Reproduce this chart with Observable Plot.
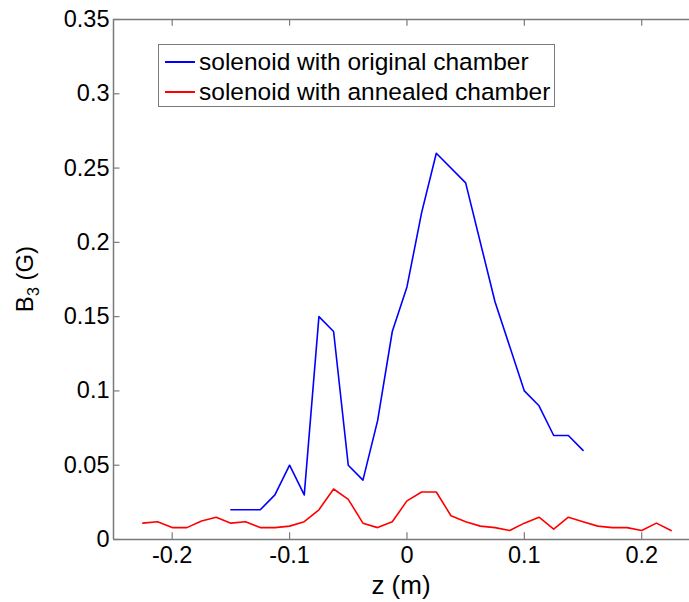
<!DOCTYPE html>
<html>
<head>
<meta charset="utf-8">
<script src="https://cdn.jsdelivr.net/npm/d3@7"></script>
<script src="https://cdn.jsdelivr.net/npm/@observablehq/plot@0.6"></script>
<style>
  html, body { margin: 0; padding: 0; background: #fff; overflow: hidden; }
  #wrap { position: relative; width: 689px; height: 602px; font-family: "Liberation Sans", Arial, sans-serif; }
  #legend { position: absolute; left: 158px; top: 44px; width: 397px; height: 63px; border: 1px solid #7a7a7a; background: #fff; box-sizing: border-box; }
  .row { position: absolute; left: 0; height: 30px; display: flex; align-items: center; font-size: 24.5px; color: #000; white-space: nowrap; }
  .sw { display: inline-block; width: 30px; height: 0; border-top: 2px solid; margin-left: 6px; margin-right: 4px; }
</style>
</head>
<body>
<div id="wrap"></div>
<script>
// ---- data ----
const seriesNames = ["solenoid with original chamber", "solenoid with annealed chamber"];
const seriesColors = ["#0000ff", "#ff0000"];

const originalZ = [-0.15, -0.125, -0.1125, -0.1, -0.0875, -0.075, -0.0625, -0.05, -0.0375, -0.025, -0.0125, 0, 0.0125, 0.025, 0.05, 0.075, 0.1, 0.1125, 0.125, 0.1375, 0.15];
const originalB = [0.02, 0.02, 0.03, 0.05, 0.03, 0.15, 0.14, 0.05, 0.04, 0.08, 0.14, 0.17, 0.22, 0.26, 0.24, 0.16, 0.10, 0.09, 0.07, 0.07, 0.06];

const annealedZ = [-0.225, -0.2125, -0.2, -0.1875, -0.175, -0.1625, -0.15, -0.1375, -0.125, -0.1125, -0.1, -0.0875, -0.075, -0.0625, -0.05, -0.0375, -0.025, -0.0125, 0, 0.0125, 0.025, 0.0375, 0.05, 0.0625, 0.075, 0.0875, 0.1, 0.1125, 0.125, 0.1375, 0.15, 0.1625, 0.175, 0.1875, 0.2, 0.2125, 0.225];
const annealedB = [0.011, 0.012, 0.008, 0.008, 0.0125, 0.015, 0.011, 0.012, 0.008, 0.008, 0.009, 0.012, 0.020, 0.034, 0.027, 0.011, 0.008, 0.012, 0.026, 0.032, 0.032, 0.016, 0.012, 0.009, 0.008, 0.006, 0.011, 0.015, 0.007, 0.015, 0.012, 0.009, 0.008, 0.008, 0.006, 0.011, 0.006];

const xTicks = [-0.2, -0.1, 0, 0.1, 0.2];
const yTicks = [0, 0.05, 0.1, 0.15, 0.2, 0.25, 0.3, 0.35];
const xDomain = [-0.25, 0.2407];
const yDomain = [0, 0.35];
const xLabel = "z (m)";

// ---- build ----
const original = originalZ.map((z, i) => ({z, b: originalB[i]}));
const annealed = annealedZ.map((z, i) => ({z, b: annealedB[i]}));
const fmt = d => String(d);
const axisColor = "#7a7a7a";

const chart = Plot.plot({
  width: 689,
  height: 602,
  marginLeft: 113,
  marginRight: 0,
  marginTop: 19,
  marginBottom: 63,
  style: {fontFamily: "'Liberation Sans', Arial, sans-serif", fontSize: "23.5px", color: "#000", background: "#fff"},
  x: {domain: xDomain, ticks: xTicks, tickFormat: fmt},
  y: {domain: yDomain, ticks: yTicks, tickFormat: fmt},
  marks: [
    Plot.ruleY([yDomain[0]], {stroke: axisColor, strokeWidth: 1.5}),
    Plot.ruleY([yDomain[1]], {stroke: axisColor, strokeWidth: 1.5}),
    Plot.ruleX([xDomain[0]], {stroke: axisColor, strokeWidth: 1.5}),
    Plot.axisX(xTicks, {anchor: "bottom", tickSize: 0, tickPadding: 7, tickFormat: fmt, label: null, fill: "#000"}),
    Plot.axisY(yTicks, {anchor: "left", tickSize: 0, tickPadding: 4, tickFormat: fmt, label: null, fill: "#000"}),
    Plot.ruleX(xTicks, {x: d => d, y1: 0, y2: 0.0045, stroke: axisColor, strokeWidth: 1.2}),
    Plot.ruleX(xTicks, {x: d => d, y1: 0.35, y2: 0.3455, stroke: axisColor, strokeWidth: 1.2}),
    Plot.ruleY(yTicks, {y: d => d, x1: -0.25, x2: -0.2445, stroke: axisColor, strokeWidth: 1.2}),
    Plot.line(original, {x: "z", y: "b", stroke: seriesColors[0], strokeWidth: 1.6}),
    Plot.line(annealed, {x: "z", y: "b", stroke: seriesColors[1], strokeWidth: 1.6})
  ]
});

const wrap = document.getElementById("wrap");
wrap.appendChild(chart);

const svg = d3.select(chart);
// y label with subscript
const yl = svg.append("text")
  .attr("transform", "translate(33,279) rotate(-90)")
  .attr("text-anchor", "middle")
  .attr("font-size", 24)
  .attr("fill", "#000");
yl.append("tspan").text("B");
yl.append("tspan").attr("font-size", 16).attr("dy", 6).text("3");
yl.append("tspan").attr("dy", -6).text(" (G)");
// x label
svg.append("text")
  .attr("x", 401).attr("y", 594)
  .attr("text-anchor", "middle")
  .attr("font-size", 26)
  .attr("fill", "#000")
  .text(xLabel);

// legend
const legend = document.createElement("div");
legend.id = "legend";
seriesNames.forEach((name, i) => {
  const row = document.createElement("div");
  row.className = "row";
  row.style.top = (i === 0 ? 2 : 32) + "px";
  const sw = document.createElement("span");
  sw.className = "sw";
  sw.style.borderTopColor = seriesColors[i];
  row.appendChild(sw);
  const t = document.createElement("span");
  t.textContent = name;
  row.appendChild(t);
  legend.appendChild(row);
});
wrap.appendChild(legend);
</script>
</body>
</html>
